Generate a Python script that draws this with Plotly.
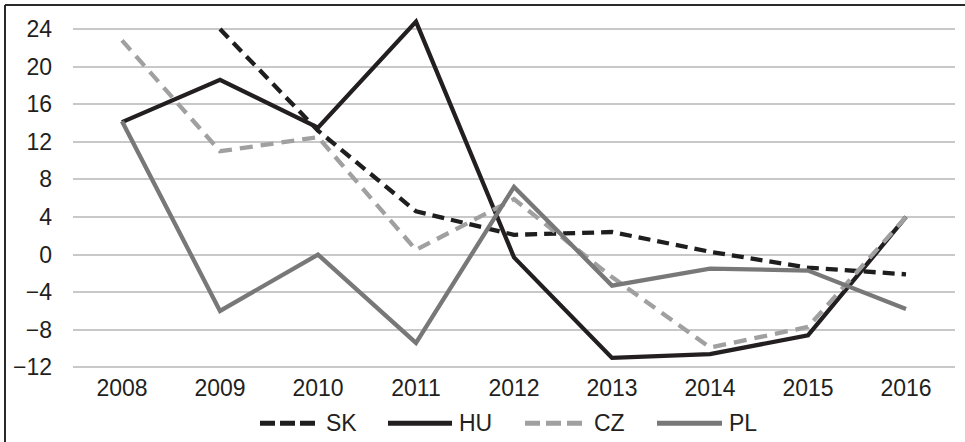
import plotly.graph_objects as go

years = ["2008", "2009", "2010", "2011", "2012", "2013", "2014", "2015", "2016"]
sk = [None, 24.0, 13.2, 4.6, 2.1, 2.4, 0.3, -1.4, -2.1]
hu = [14.1, 18.6, 13.5, 24.8, -0.3, -11.0, -10.6, -8.6, 4.0]
cz = [22.8, 11.0, 12.5, 0.5, 5.9, -2.4, -9.9, -7.7, 4.0]
pl = [14.2, -6.0, 0.0, -9.4, 7.2, -3.3, -1.5, -1.7, -5.8]
y_ticks = [-12, -8, -4, 0, 4, 8, 12, 16, 20, 24]

series = [
    ("SK", sk, "#1e1e1e", "12px,7px"),
    ("HU", hu, "#231f20", "solid"),
    ("CZ", cz, "#a0a0a0", "13px,8px"),
    ("PL", pl, "#787878", "solid"),
]

W, H = 965, 442
L, R, T = 73, 10, 15
PW = W - L - R
yr = [-12.5, 25.5]
ppu = 37.55 / 4
PH = (yr[1] - yr[0]) * ppu
B = H - T - PH
FS = 23


def px_x(p):
    return (p - L) / PW


def px_y(p):
    return (T + PH - p) / PH


fig = go.Figure()
for name, vals, color, dash in series:
    fig.add_trace(go.Scatter(
        x=years, y=vals, mode="lines", name=name,
        line=dict(color=color, width=4.3, dash=dash),
        showlegend=False, cliponaxis=False, connectgaps=False,
    ))

shapes = []
annotations = []
legend_pos = [(260, 317, 324), (388, 452, 457), (525, 582, 592), (657, 722, 727)]
ly = px_y(423)
for (name, vals, color, dash), (x0, x1, tx) in zip(series, legend_pos):
    ldash = {"12px,7px": "15px,5px", "13px,8px": "15px,6px"}.get(dash, "solid")
    shapes.append(dict(type="line", xref="paper", yref="paper",
                       x0=px_x(x0), x1=px_x(x1), y0=ly, y1=ly,
                       line=dict(color=color, width=5, dash=ldash)))
    annotations.append(dict(xref="paper", yref="paper", x=px_x(tx), y=ly,
                            text=name, showarrow=False, xanchor="left",
                            yanchor="middle",
                            font=dict(size=FS, color="#231f20",
                                      family="Liberation Sans, Arial")))

# frame (top and left edges)
shapes.append(dict(type="line", xref="paper", yref="paper",
                   x0=px_x(5), x1=px_x(970), y0=px_y(5), y1=px_y(5),
                   line=dict(color="#2a2a2a", width=2)))
shapes.append(dict(type="line", xref="paper", yref="paper",
                   x0=px_x(5), x1=px_x(5), y0=px_y(5), y1=px_y(450),
                   line=dict(color="#2a2a2a", width=2)))

fig.update_layout(
    width=W, height=H,
    margin=dict(l=L, r=R, t=T, b=B),
    paper_bgcolor="white", plot_bgcolor="white",
    font=dict(family="Liberation Sans, Arial", size=FS, color="#231f20"),
    shapes=shapes, annotations=annotations,
    showlegend=False,
)
fig.update_xaxes(type="category", range=[-0.5, 8.5], showgrid=False,
                 showline=False, ticks="", ticklabelstandoff=0,
                 tickfont=dict(size=FS))
fig.update_yaxes(range=yr, tickvals=y_ticks, showgrid=True,
                 gridcolor="#c8c8c8", gridwidth=1.5, zeroline=False,
                 showline=False, ticks="", ticklabelstandoff=20,
                 tickfont=dict(size=FS))

fig.write_html("out.html", config={"displayModeBar": False},
               post_script="document.body.style.margin='0';document.body.style.overflow='hidden';")
